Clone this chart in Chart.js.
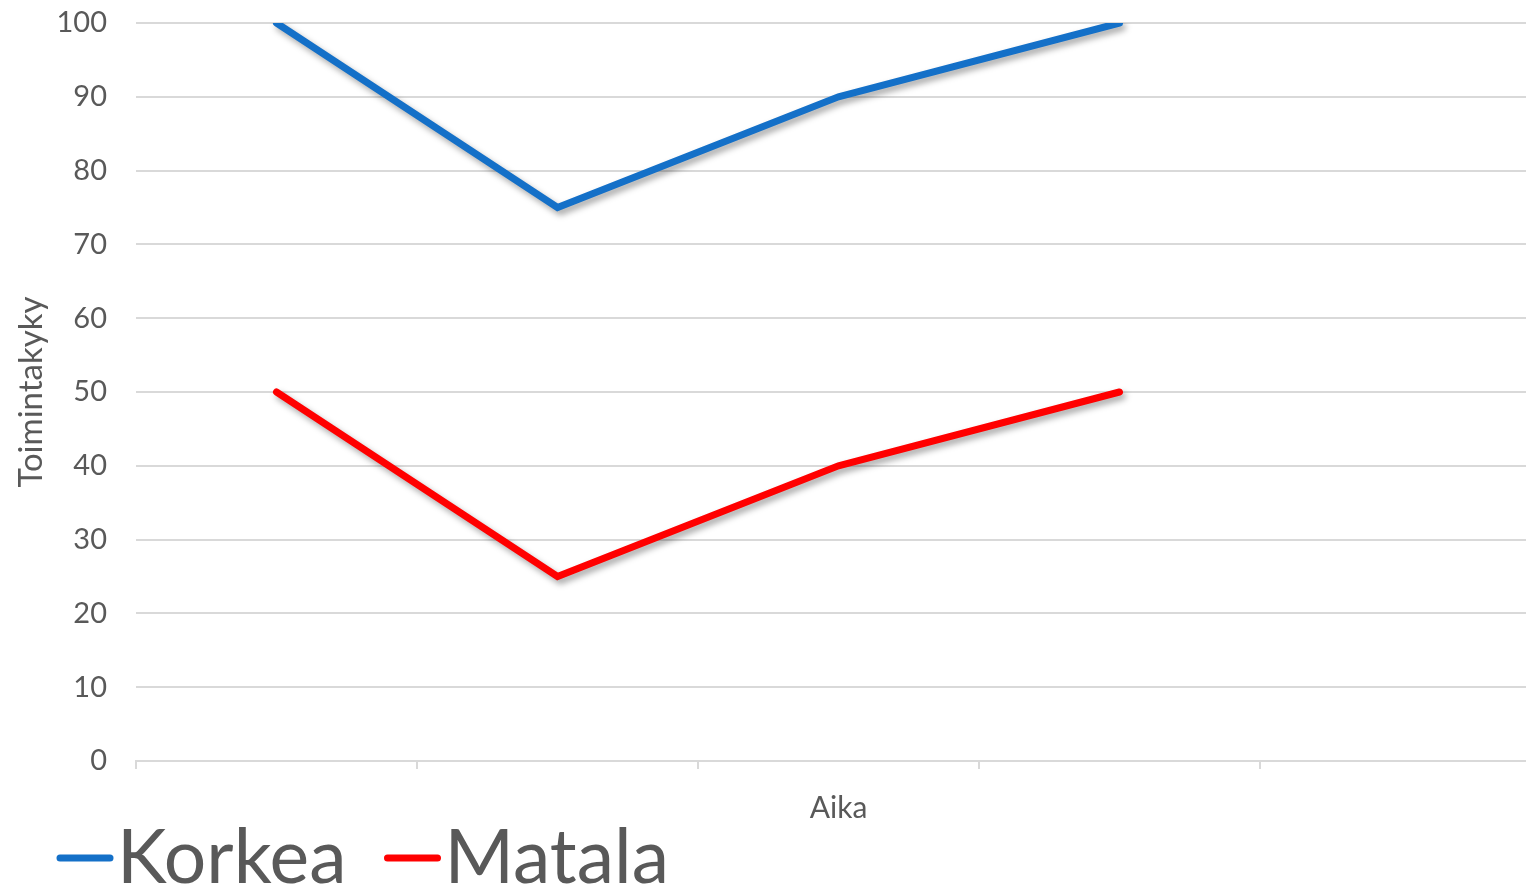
<!DOCTYPE html>
<html>
<head>
<meta charset="utf-8">
<script src="https://cdn.jsdelivr.net/npm/chart.js@4.4.1/dist/chart.umd.min.js"></script>
<style>
	html, body { margin: 0; padding: 0; overflow: hidden; background: #fff; }
	#wrap { width: 1545px; height: 893px; }
</style>
</head>
<body>
<div id="wrap"><canvas id="chart"></canvas></div>
<script>
const categories = ['', '', '', '', ''];
const korkea = [100, 75, 90, 100, null];
const matala = [50, 25, 40, 50, null];
const yTicks = [0, 10, 20, 30, 40, 50, 60, 70, 80, 90, 100];

const FONT = 'Lato, "DejaVu Sans", sans-serif';
const GREY = '#595959';

// drop shadow under the lines
const shadow = {
	id: 'shadow',
	beforeDatasetsDraw(chart) {
		const ctx = chart.ctx;
		ctx.save();
		ctx.shadowColor = 'rgba(0, 0, 0, 0.35)';
		ctx.shadowBlur = 6;
		ctx.shadowOffsetX = 3;
		ctx.shadowOffsetY = 4;
	},
	afterDatasetsDraw(chart) {
		chart.ctx.restore();
	}
};

// big legend at bottom left
const bigLegend = {
	id: 'bigLegend',
	afterDraw(chart) {
		const ctx = chart.ctx;
		ctx.save();
		ctx.font = '75px ' + FONT;
		ctx.textBaseline = 'alphabetic';
		let x = 57;
		chart.data.datasets.forEach(ds => {
			ctx.strokeStyle = ds.borderColor;
			ctx.lineWidth = 7;
			ctx.lineCap = 'round';
			ctx.beginPath();
			ctx.moveTo(x + 3, 858);
			ctx.lineTo(x + 53, 858);
			ctx.stroke();
			ctx.fillStyle = GREY;
			ctx.fillText(ds.label, x + 60, 883);
			x += 60 + ctx.measureText(ds.label).width + 38;
		});
		ctx.restore();
	}
};

new Chart(document.getElementById('chart'), {
	type: 'line',
	data: {
		labels: categories,
		datasets: [{
			label: 'Korkea',
			data: korkea,
			borderColor: '#1470c8',
			borderWidth: 7,
			pointRadius: 0,
			borderCapStyle: 'round',
			tension: 0
		}, {
			label: 'Matala',
			data: matala,
			borderColor: '#ff0000',
			borderWidth: 7,
			pointRadius: 0,
			borderCapStyle: 'round',
			tension: 0
		}]
	},
	options: {
		responsive: true,
		maintainAspectRatio: false,
		animation: false,
		layout: { padding: { top: 23, right: 4, bottom: 67, left: 0 } },
		plugins: {
			legend: { display: false },
			tooltip: { enabled: false }
		},
		scales: {
			x: {
				offset: true,
				grid: { offset: true, drawOnChartArea: false, drawTicks: true, tickLength: 8, color: '#d9d9d9', lineWidth: 2 },
				border: { display: true, color: '#d9d9d9', width: 2 },
				ticks: { display: false },
				title: { display: true, text: 'Aika', color: GREY, font: { family: FONT, size: 30 }, padding: 0 },
				afterFit: s => { s.height = 65; }
			},
			y: {
				min: 0,
				max: 100,
				afterBuildTicks: s => { s.ticks = yTicks.map(v => ({ value: v })); },
				grid: { color: '#d9d9d9', lineWidth: 2, drawTicks: false },
				border: { display: false },
				ticks: { color: GREY, font: { family: FONT, size: 29 }, padding: 29 },
				title: { display: true, text: 'Toimintakyky', color: GREY, font: { family: FONT, size: 33 }, padding: { top: 12, bottom: 0 } },
				afterFit: s => { s.width = 136; s.paddingTop = 0; s.paddingBottom = 0; }
			}
		}
	},
	plugins: [shadow, bigLegend]
});
</script>
</body>
</html>
